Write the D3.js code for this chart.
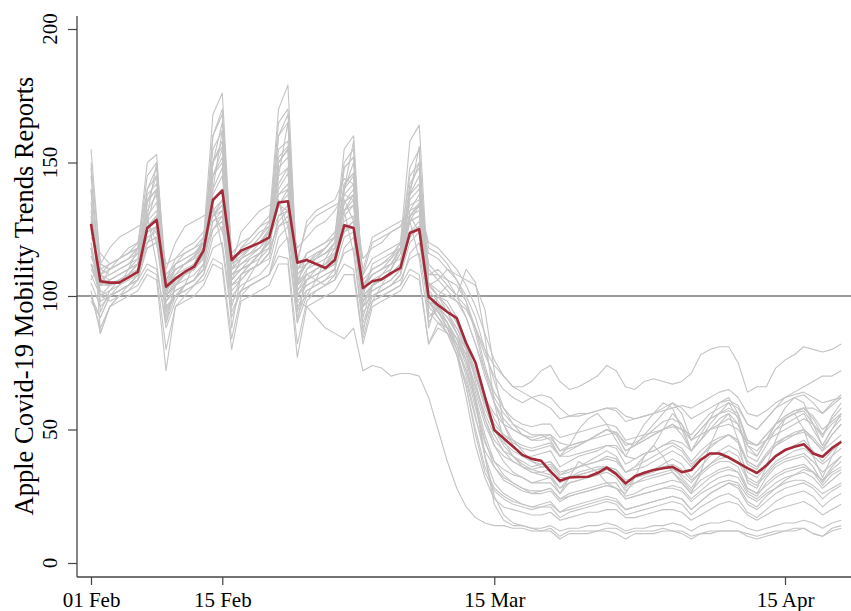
<!DOCTYPE html>
<html>
<head>
<meta charset="utf-8">
<script src="https://cdn.jsdelivr.net/npm/d3@7.9.0/dist/d3.min.js"></script>
<style>
  body { margin: 0; background: #fff; }
  text { font-family: "Liberation Serif", "Times New Roman", serif; fill: #000; }
</style>
</head>
<body>
<svg width="851" height="611"></svg>
<script>
// daily values from 01 Feb 2020, one entry per day
const startDate = new Date(2020, 1, 1);
const xTickDates = [new Date(2020, 1, 1), new Date(2020, 1, 15), new Date(2020, 2, 15), new Date(2020, 3, 15)];
const yTicks = [0, 50, 100, 150, 200];
const baseline = 100;

// average of all countries (red line)
const meanIndex = [127,105.5,105,105,107,109,125.5,128.5,103.5,106.5,109,111,117,136,139.5,113.5,117,118.5,120,122,135,135.5,112.5,113.5,112,110.5,113.5,126.5,125.5,103,105.5,106.3,108.6,110.5,123.6,125,
  99.7,96.6,94,91.7,82.4,75,62.3,49.8,46.7,43.6,40.5,39,38.3,
  34.2,30.8,32,32.2,32.3,33.7,35.7,33.3,29.8,32.5,33.8,34.8,35.5,36,34,34.8,38.6,41,41,39.5,37.5,35.5,33.7,36.5,40,42.3,43.5,44.5,41,39.8,43,45.4];

// individual countries (grey lines)
const countries = [
  [118,100,98,100,102,106,128,140,96,100,104,106,112,150,165,110,112,114,116,120,150,155,98,96,92,88,86,84,88,72,74,73,70,71,71,70,
   62,50,38,28,21,17,15,14,14,13,13,12,12,
   12,9,11,11,11,12,12,11,9,11,11,11,12,12,11,9,11,11,12,12,12,10,9,10,11,12,12,13,11,10,13,14],
  [125,108,104,106,108,112,135,145,100,105,108,110,118,160,170,115,116,118,120,125,160,168,104,108,106,104,108,140,150,96,104,106,108,112,140,150,
   105,100,98,92,80,60,40,25,18,15,14,13,12,
   13,10,12,12,12,12,13,13,11,12,12,12,13,12,12,10,11,12,12,12,12,11,10,11,12,12,13,13,11,10,12,13],
  [110,104,106,108,110,112,120,122,102,108,112,114,116,125,128,106,110,114,116,118,126,130,104,110,112,114,116,124,128,104,108,110,112,114,122,126,
   105,102,100,98,95,88,80,74,70,66,66,68,72,
   74,68,65,66,68,70,74,72,66,65,68,69,68,67,68,71,78,80,81,81,75,64,66,66,73,76,78,81,80,79,80,82],
  [115,106,108,110,112,114,128,132,104,110,112,115,118,135,140,108,112,115,118,122,138,142,106,112,114,116,118,132,136,104,110,112,114,118,130,134,
   112,108,104,100,96,88,78,70,65,62,60,62,63,
   62,58,55,55,56,57,58,58,55,54,55,56,57,58,59,58,60,62,64,65,62,56,55,57,60,62,63,64,62,60,61,62],
  [140,110,112,114,116,120,140,148,106,110,112,115,120,150,158,112,115,118,120,125,155,158,110,112,115,118,122,148,152,106,110,112,115,120,145,150,
   110,106,102,98,92,82,70,60,54,50,48,46,47,
   48,45,44,45,46,47,48,49,45,44,46,48,50,52,50,48,52,56,58,60,58,52,50,54,58,62,64,66,68,70,70,72],
  [105,96,100,102,104,106,118,120,94,100,102,104,108,122,126,98,102,104,106,108,122,126,96,100,102,104,106,118,122,94,98,100,102,104,116,120,
   98,96,92,88,82,72,62,54,48,45,43,42,43,
   44,40,40,41,42,43,44,44,40,39,41,42,44,46,45,42,46,50,52,54,52,44,42,46,50,54,56,58,58,56,59,62],
  [128,104,104,106,108,112,132,138,100,104,108,110,115,145,152,108,110,112,116,120,148,152,100,106,108,110,112,138,142,98,102,104,106,110,132,138,
   100,96,92,86,78,66,54,46,42,40,38,36,37,
   38,33,34,36,38,40,42,40,34,36,40,44,50,56,52,42,46,52,56,60,54,40,38,44,50,52,54,56,50,44,50,54],
  [135,105,104,105,107,110,130,135,102,106,108,110,115,145,150,110,114,116,118,122,145,148,106,108,110,112,115,135,138,100,104,106,108,112,130,132,
   96,92,88,82,72,58,45,38,35,33,32,30,31,
   32,28,30,31,32,33,35,34,29,30,32,33,34,35,33,30,34,37,40,42,40,32,30,34,38,40,42,43,40,37,40,43],
  [120,102,100,102,104,106,126,130,98,102,104,106,110,138,145,106,110,112,114,118,140,146,102,106,108,110,112,130,134,98,102,104,106,110,128,130,
   94,90,86,78,68,54,42,36,32,30,28,26,27,
   28,24,26,27,28,29,30,30,25,26,28,29,30,31,30,26,29,32,34,35,34,28,26,29,32,34,35,36,34,31,34,36],
  [150,112,110,112,114,118,145,150,108,112,114,116,120,160,168,114,116,118,122,126,165,170,110,114,116,118,122,150,155,104,108,110,112,118,148,155,
   100,96,90,82,70,55,40,30,26,24,22,21,22,
   23,19,21,22,23,24,25,24,20,21,22,23,24,25,24,20,23,26,28,30,28,22,20,23,26,28,29,30,28,24,27,29],
  [130,100,100,102,104,108,135,140,96,100,104,106,110,145,155,104,106,110,112,116,150,155,100,104,106,108,110,140,145,96,100,102,104,108,138,145,
   98,94,88,78,62,44,32,24,21,20,19,18,18,
   19,16,17,18,19,19,20,20,17,17,18,19,20,20,19,16,18,20,22,23,22,18,16,18,20,21,22,23,21,18,20,22],
  [112,108,112,114,116,118,124,126,106,114,116,118,122,130,134,112,118,120,124,126,134,138,110,116,118,120,124,132,134,108,114,116,118,120,128,130,
   116,114,110,106,100,92,80,68,58,52,48,46,46,
   47,42,43,44,46,48,50,49,44,45,47,50,53,54,52,46,50,54,56,57,55,46,44,48,52,55,57,58,55,50,53,56],
  [102,86,96,100,102,104,110,108,80,96,100,104,106,114,112,84,100,104,106,108,115,114,82,98,102,104,106,112,110,84,98,100,102,104,110,108,
   82,90,88,84,78,70,60,50,44,40,36,34,34,
   33,28,32,34,35,36,36,34,28,32,34,35,36,36,32,28,33,36,38,38,36,28,26,32,36,38,39,40,36,30,35,38],
  [108,100,104,106,108,110,120,122,98,104,106,108,112,128,130,102,106,110,112,114,130,132,100,106,108,110,112,125,128,98,104,106,108,112,124,128,
   104,106,110,108,106,104,95,72,52,44,40,38,37,
   38,34,35,36,37,38,39,38,34,35,36,38,40,42,40,36,40,44,46,48,46,38,36,40,44,46,48,50,46,42,45,48],
  [100,92,100,102,104,106,112,110,90,100,102,104,108,118,120,94,102,104,106,108,118,122,92,102,104,106,108,116,118,90,100,102,104,106,114,116,
   96,100,104,100,110,105,85,60,46,40,37,35,34,
   35,30,32,33,34,35,36,35,30,32,33,35,37,39,37,32,36,40,42,44,42,34,32,36,40,42,44,46,42,38,42,45],
  [145,108,106,108,110,114,140,145,104,108,110,112,118,155,162,112,114,116,118,124,160,165,108,112,114,116,120,148,152,102,106,108,110,116,142,148,
   98,94,90,84,74,60,46,36,31,29,27,26,26,
   27,23,25,26,27,28,29,28,24,25,26,27,28,29,28,24,27,30,32,33,32,26,24,27,30,32,33,34,32,28,31,34],
  [118,98,100,102,104,108,125,130,95,100,104,106,110,140,148,104,108,110,112,116,142,148,100,104,106,108,110,135,140,96,100,102,104,108,130,135,
   100,95,88,80,72,62,40,22,16,14,14,13,13,
   14,12,13,13,14,14,15,14,12,13,13,14,14,15,14,12,14,15,15,16,15,13,12,13,14,15,15,16,15,13,15,16],
  [125,110,108,110,112,116,138,142,105,110,112,114,120,150,158,110,114,116,120,124,150,155,108,112,114,116,120,142,146,104,108,110,112,118,138,142,
   104,100,96,90,82,70,58,50,45,42,40,40,41,
   42,36,38,40,41,42,44,43,37,39,41,42,44,45,43,38,42,45,47,48,46,38,36,41,45,47,48,49,46,42,48,52],
  [155,112,110,112,114,118,150,153,102,110,112,114,122,168,176,114,116,118,122,128,170,179,106,112,116,118,122,155,160,102,108,110,114,120,158,164,
   104,100,94,86,76,62,48,38,33,30,28,27,27,
   28,24,25,26,27,28,29,28,24,25,26,27,28,28,27,23,26,28,30,31,30,25,23,26,28,30,31,31,29,26,28,30],
  [100,88,96,98,100,102,108,106,72,96,98,100,104,112,110,80,98,100,102,104,112,112,77,96,98,100,102,108,108,82,96,98,100,102,108,106,
   82,88,86,82,76,66,56,48,42,38,36,34,33,
   32,26,30,31,32,33,34,32,27,30,31,32,33,34,31,27,31,33,35,36,34,27,25,30,33,35,36,37,34,29,33,35],
  [118,104,106,108,110,112,122,124,100,106,108,110,114,128,132,104,108,110,112,116,128,132,102,108,110,112,114,124,126,100,104,106,108,112,122,126,
   102,98,94,88,80,70,60,52,48,46,44,43,44,
   45,40,42,44,46,48,50,48,42,44,48,52,56,60,56,46,50,54,56,58,56,46,44,48,52,54,56,57,52,47,55,60],
  [132,106,104,106,108,112,136,140,100,104,108,110,116,150,156,108,110,112,116,120,152,156,104,108,110,112,116,142,146,100,104,106,108,112,136,140,
   98,92,86,78,66,50,36,28,25,23,22,21,21,
   22,19,20,21,22,23,24,23,20,21,22,23,24,25,24,20,23,26,28,30,29,23,21,25,28,31,33,35,34,31,36,40],
  [112,104,110,114,116,118,126,124,100,112,116,118,120,130,132,106,114,118,120,122,130,134,104,116,118,120,122,128,130,100,112,114,116,118,124,126,
   108,108,106,104,98,88,74,62,56,52,50,48,48,
   48,42,44,45,46,48,50,48,42,44,46,48,50,52,48,42,46,50,54,56,52,42,40,46,52,55,57,58,54,48,54,58],
  [115,108,110,112,114,116,124,126,106,112,114,116,120,132,136,110,118,122,126,128,138,140,112,128,132,134,136,144,142,108,120,122,124,126,134,136,
   118,116,112,106,98,86,72,60,52,46,42,38,36,
   36,32,32,33,34,35,36,35,31,32,33,34,36,37,35,31,34,37,39,40,38,31,29,33,37,39,40,41,38,34,37,40],
  [98,92,100,104,110,118,130,112,88,98,104,112,120,134,118,92,102,108,114,122,136,120,90,100,106,114,120,132,116,88,98,104,110,118,128,114,
   90,96,92,86,80,70,62,56,52,50,48,47,48,
   46,40,44,50,54,56,52,46,40,46,52,56,60,58,50,42,48,54,60,62,56,44,40,46,52,58,62,60,52,44,50,56],
  [106,112,118,122,124,126,128,120,110,120,126,128,130,132,124,112,124,128,132,134,136,126,114,126,130,132,134,136,128,110,122,124,126,128,130,124,
   108,110,106,100,92,82,72,64,58,54,52,51,52,
   52,47,48,49,50,51,52,51,46,47,48,49,50,51,50,46,48,50,51,52,50,45,44,46,48,50,52,54,52,48,52,55],
  [140,86,96,100,104,108,120,126,90,104,108,112,118,130,136,88,108,112,116,122,134,140,90,110,114,118,122,132,138,86,104,108,112,118,128,134,
   88,100,96,90,82,68,54,44,38,34,32,30,30,
   30,26,32,38,36,34,30,28,26,32,40,44,40,34,30,26,34,44,52,56,46,30,28,36,46,54,56,50,40,32,40,46],
  [122,116,112,114,118,120,126,130,112,114,118,120,124,130,134,116,120,122,126,130,134,132,118,122,126,128,132,138,136,114,118,120,124,126,132,134,
   120,118,114,110,104,96,86,76,70,66,64,62,60,
   58,54,55,56,56,57,58,57,53,54,55,56,58,60,58,54,56,58,60,61,59,52,50,54,58,60,62,63,60,56,60,63],
  [148,94,102,106,108,112,130,150,92,104,108,110,116,140,162,96,108,112,116,120,145,165,94,106,110,112,118,140,158,92,104,108,110,116,138,156,
   92,96,90,80,66,48,34,27,24,22,21,20,21,
   21,17,19,20,21,22,23,22,18,19,20,21,22,23,22,18,21,23,25,26,24,19,17,20,23,25,26,27,25,21,24,26],
  [112,100,102,104,106,108,118,120,98,102,104,106,110,125,130,100,104,106,108,112,126,128,98,102,104,106,110,122,124,96,100,102,104,108,120,124,
   98,94,90,84,76,64,52,44,40,38,36,35,36,
   37,33,35,36,37,38,40,39,34,36,38,40,42,44,42,37,40,43,46,48,45,37,35,40,44,47,49,50,47,43,48,52]
];

countries.forEach((c, i) => { if (c.length !== meanIndex.length) console.error('series ' + i + ' has ' + c.length); });

const svg = d3.select('svg');

const x = d3.scaleTime()
  .domain([new Date(2020, 1, 1), new Date(2020, 3, 15)])
  .range([91, 785]);
const y = d3.scaleLinear().domain([0, 200]).range([563, 29]);

const dayOf = (i) => d3.timeDay.offset(startDate, i);
const line = d3.line()
  .x((d, i) => x(dayOf(i)))
  .y((d) => y(d));

// reference line at 100
svg.append('line')
  .attr('x1', 77).attr('x2', 851)
  .attr('y1', y(baseline)).attr('y2', y(baseline))
  .attr('stroke', '#7a7a7a')
  .attr('stroke-width', 1.6);

svg.append('g')
  .selectAll('path')
  .data(countries)
  .join('path')
  .attr('d', line)
  .attr('fill', 'none')
  .attr('stroke', '#c4c4c4')
  .attr('stroke-width', 1.1)
  .attr('stroke-linejoin', 'round');

svg.append('path')
  .attr('d', line(meanIndex))
  .attr('fill', 'none')
  .attr('stroke', '#a32a38')
  .attr('stroke-width', 2.6)
  .attr('stroke-linejoin', 'round');

// x axis
const xAxis = svg.append('g')
  .attr('transform', 'translate(0,577)')
  .call(d3.axisBottom(x)
    .tickValues(xTickDates)
    .tickFormat(d3.timeFormat('%d %b'))
    .tickSize(8)
    .tickPadding(7));
xAxis.select('.domain').remove();
xAxis.selectAll('.tick line').attr('stroke', '#444').attr('stroke-width', 1.2);
xAxis.selectAll('.tick text').style('font-size', '21px').attr('fill', '#000');
svg.append('line')
  .attr('x1', 77).attr('x2', 851).attr('y1', 577).attr('y2', 577)
  .attr('stroke', '#444').attr('stroke-width', 1.3);

// y axis
const yAxis = svg.append('g')
  .attr('transform', 'translate(77,0)')
  .call(d3.axisLeft(y).tickValues(yTicks).tickSize(9).tickFormat(''));
yAxis.select('.domain').remove();
yAxis.selectAll('.tick line').attr('stroke', '#444').attr('stroke-width', 1.2);
svg.append('line')
  .attr('x1', 77).attr('x2', 77).attr('y1', 16).attr('y2', 577)
  .attr('stroke', '#444').attr('stroke-width', 1.3);

svg.append('g')
  .selectAll('text')
  .data(yTicks)
  .join('text')
  .attr('transform', (d) => `translate(57,${y(d)}) rotate(-90)`)
  .attr('text-anchor', 'middle')
  .style('font-size', '21px')
  .text((d) => d);

svg.append('text')
  .attr('transform', `translate(33,${y(100)}) rotate(-90)`)
  .attr('text-anchor', 'middle')
  .style('font-size', '26.5px')
  .text('Apple Covid-19 Mobility Trends Reports');
</script>
</body>
</html>
